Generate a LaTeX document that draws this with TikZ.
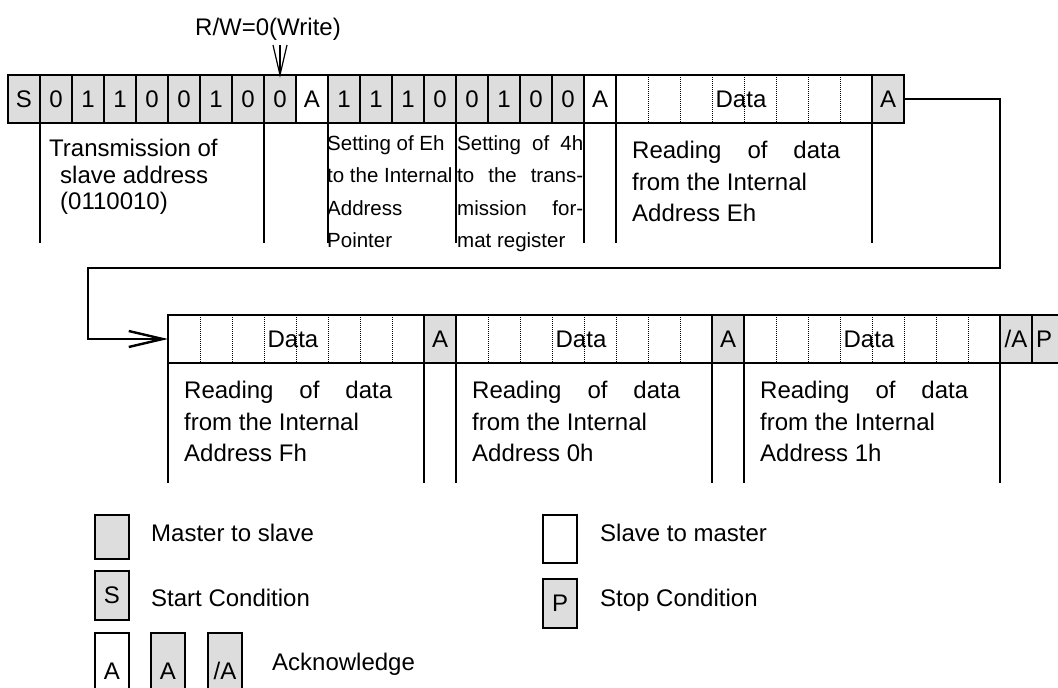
\documentclass[tikz,border=0pt]{standalone}
\usepackage{fontspec}
\setmainfont{Liberation Sans}
\usetikzlibrary{arrows.meta}
\definecolor{cellgray}{RGB}{221,221,221}
\begin{document}
\begin{tikzpicture}[x=1pt,y=-1pt,
  cell/.style={draw, line width=1.3pt, minimum width=32pt, minimum height=48pt, inner sep=0pt, outer sep=0pt, anchor=north west, font=\fontsize{24}{24}\selectfont},
  datacell/.style={cell, fill=white, minimum width=256pt},
  guide/.style={line width=1.3pt},
  thickguide/.style={line width=2.2pt},
  dotline/.style={line width=0.8pt, dash pattern=on 1pt off 1pt},
  txt/.style={anchor=base west, inner sep=0pt, font=\fontsize{24}{24}\selectfont},
  stxt/.style={anchor=base west, inner sep=0pt, font=\fontsize{20.5}{20.5}\selectfont},
  legbox/.style={draw, line width=1.3pt, minimum width=34pt, inner sep=0pt, outer sep=0pt, anchor=north west, font=\fontsize{24}{24}\selectfont},
  flow/.style={line width=2.4pt},
]
\useasboundingbox (0,0) rectangle (1058,688);

% ---------- top row ----------
\foreach \i/\t/\f in {0/S/cellgray,1/0/cellgray,2/1/cellgray,3/1/cellgray,4/0/cellgray,5/0/cellgray,6/1/cellgray,7/0/cellgray,8/0/cellgray,9/A/white,10/1/cellgray,11/1/cellgray,12/1/cellgray,13/0/cellgray,14/0/cellgray,15/1/cellgray,16/0/cellgray,17/0/cellgray,18/A/white}
  \node[cell, fill=\f] (t\i) at (8+32*\i,75) {\t};
\node[datacell] (t19) at (616,75) {\hspace*{-6pt}Data};
\node[cell, fill=cellgray] (t20) at (872,75) {A};
\foreach \k in {1,...,7}
  \draw[dotline] ([xshift=32*\k]t19.north west) -- ([xshift=32*\k]t19.south west);

% descenders, top row
\foreach \n in {t1,t8,t14,t18,t20}
  \draw[guide] (\n.south west) -- ++(0,120);
\foreach \n in {t10,t19}
  \draw[thickguide] (\n.north west) -- ++(0,168);

% R/W marker
\node[txt, anchor=base] (rw) at (268,35) {R/W=0(Write)};
\coordinate (rwtop) at (280,45);
\draw[line width=1.2pt] (rwtop) -- (t8.north);
\draw[line width=1.2pt] ([xshift=-7]rwtop) -- (t8.north) -- ([xshift=7]rwtop);

% texts, top row
\node[txt] (tx1) at (49,156) {Transmission of};
\node[txt] (tx2) at (60,183) {slave address};
\node[txt] (tx3) at (60,209) {(0110010)};

\node[stxt] (se1) at (327,150) {Setting of Eh};
\node[stxt] (se2) at (327,182) {to the Internal};
\node[stxt] (se3) at (327,215) {Address};
\node[stxt] (se4) at (327,247) {Pointer};

\node[stxt] (sf1) at (457,150) {\makebox[126pt][s]{Setting of 4h}};
\node[stxt] (sf2) at (457,182) {\makebox[126pt][s]{to the trans-}};
\node[stxt] (sf3) at (457,215) {\makebox[126pt][s]{mission for-}};
\node[stxt] (sf4) at (457,247) {mat register};

\node[txt] (re1) at (632,158) {\makebox[208pt][s]{Reading of data}};
\node[txt] (re2) at (632,190) {from the Internal};
\node[txt] (re3) at (632,221) {Address Eh};

% ---------- bottom row ----------
\node[datacell] (b1) at (168,315) {\hspace*{-6pt}Data};
\node[cell, fill=cellgray] (b2) at (424,315) {A};
\node[datacell] (b3) at (456,315) {\hspace*{-6pt}Data};
\node[cell, fill=cellgray] (b4) at (712,315) {A};
\node[datacell] (b5) at (744,315) {\hspace*{-6pt}Data};
\node[cell, fill=cellgray] (b6) at (1000,315) {/A};
\node[cell, fill=cellgray] (b7) at (1032,315) {\hspace*{-8pt}P};
\foreach \n in {b1,b3,b5}
  \foreach \k in {1,...,7}
    \draw[dotline] ([xshift=32*\k]\n.north west) -- ([xshift=32*\k]\n.south west);
\foreach \n in {b1,b2,b3,b4,b5,b6}
  \draw[guide] (\n.south west) -- ++(0,120);

\node[txt] (r11) at (184,398) {\makebox[208pt][s]{Reading of data}};
\node[txt] (r12) at (184,430) {from the Internal};
\node[txt] (r13) at (184,461) {Address Fh};
\node[txt] (r21) at (472,398) {\makebox[208pt][s]{Reading of data}};
\node[txt] (r22) at (472,430) {from the Internal};
\node[txt] (r23) at (472,461) {Address 0h};
\node[txt] (r31) at (760,398) {\makebox[208pt][s]{Reading of data}};
\node[txt] (r32) at (760,430) {from the Internal};
\node[txt] (r33) at (760,461) {Address 1h};

% ---------- flow connector ----------
\coordinate (c1) at (1000,268);
\coordinate (c2) at (88,268);
\draw[flow, -{Straight Barb[length=34pt,width=16pt]}] (t20.east) -| (c1) -- (c2) |- (b1.west);

% ---------- legend ----------
\node[legbox, fill=cellgray, minimum height=44pt] (l1) at (95,515) {};
\node[txt] (l1t) at (151,541) {Master to slave};
\node[legbox, fill=cellgray, minimum height=49pt] (l2) at (95,571) {S};
\node[txt] (l2t) at (151,606) {Start Condition};
\node[legbox, fill=white, minimum height=76pt] (l3a) at (95,633) {A};
\node[legbox, fill=cellgray, minimum height=76pt] (l3b) at (151,633) {A};
\node[legbox, fill=cellgray, minimum height=76pt] (l3c) at (208,633) {/A};
\node[txt] (l3t) at (272,670) {Acknowledge};
\node[legbox, fill=white, minimum height=48pt] (l4) at (543,515) {};
\node[txt] (l4t) at (600,541) {Slave to master};
\node[legbox, fill=cellgray, minimum height=49pt] (l5) at (543,579) {P};
\node[txt] (l5t) at (600,606) {Stop Condition};
\end{tikzpicture}
\end{document}
